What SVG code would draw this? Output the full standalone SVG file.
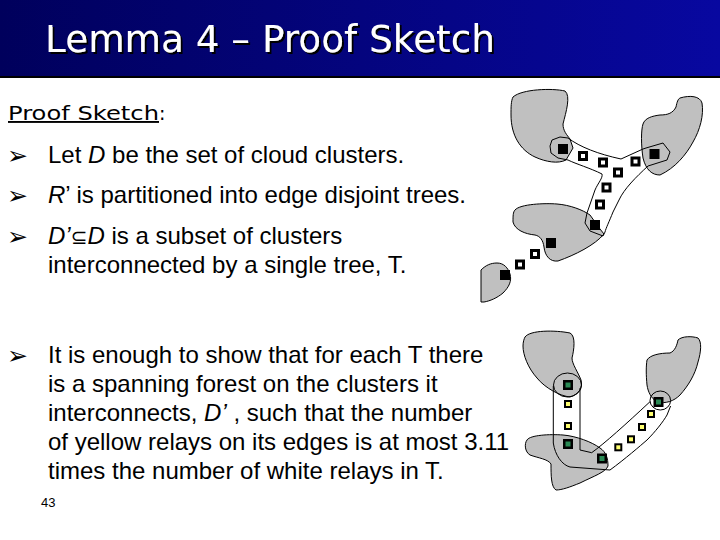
<svg xmlns="http://www.w3.org/2000/svg" width="720" height="540" viewBox="0 0 720 540">
<defs>
<linearGradient id="bar" x1="0" y1="0" x2="1" y2="0">
<stop offset="0" stop-color="#00005C"/>
<stop offset="1" stop-color="#0808A0"/>
</linearGradient>
<filter id="shadow" x="-5%" y="-20%" width="110%" height="140%">
<feDropShadow dx="2" dy="2" stdDeviation="0.6" flood-color="#000" flood-opacity="1"/>
</filter>
</defs>
<style>
.blob{fill:#C0C0C0;stroke:#000;stroke-width:1}
.hull{fill:none;stroke:#000;stroke-width:1}
.blk{fill:#000}
.wr{fill:#fff;stroke:#000;stroke-width:3}
.txt{font-family:"Liberation Sans",Arial,sans-serif;font-size:24px;fill:#000}
.bul{font-family:"DejaVu Sans",sans-serif;font-size:25px;fill:#000}
.it{font-style:italic}
.gr{fill:#2A8A55}
.yl{fill:#FFFF70}
</style>
<rect width="720" height="540" fill="#fff"/>
<g id="title">
<rect x="0" y="0" width="720" height="77" fill="url(#bar)"/>
<rect x="0" y="76" width="720" height="2" fill="#000"/>
<text x="45" y="52" font-family="'DejaVu Sans',sans-serif" font-size="37" fill="#fff" filter="url(#shadow)" textLength="450" lengthAdjust="spacingAndGlyphs">Lemma 4 – Proof Sketch</text>
</g>
<g id="heading">
<text x="8" y="120" font-family="'DejaVu Sans',sans-serif" font-size="19" fill="#000"><tspan text-decoration="underline" textLength="151" lengthAdjust="spacingAndGlyphs">Proof Sketch</tspan>:</text>
</g>
<g id="bullets">
<text class="bul" x="7" y="164">➢</text>
<text class="txt" x="48" y="163">Let <tspan class="it">D</tspan> be the set of cloud clusters.</text>
<text class="bul" x="7" y="204">➢</text>
<text class="txt" x="48" y="203"><tspan class="it">R</tspan>’ is partitioned into edge disjoint trees.</text>
<text class="bul" x="7" y="245">➢</text>
<text class="txt" x="48" y="244"><tspan class="it">D’</tspan><tspan font-family="'DejaVu Sans',sans-serif" font-size="20">⊆</tspan><tspan class="it">D</tspan> is a subset of clusters</text>
<text class="txt" x="48" y="273">interconnected by a single tree, T.</text>
<text class="bul" x="7" y="364">➢</text>
<text class="txt" x="48" y="363">It is enough to show that for each T there</text>
<text class="txt" x="48" y="392">is a spanning forest on the clusters it</text>
<text class="txt" x="48" y="421">interconnects, <tspan class="it">D’</tspan> , such that the number</text>
<text class="txt" x="48" y="450">of yellow relays on its edges is at most 3.11</text>
<text class="txt" x="48" y="479">times the number of white relays in T.</text>
<text x="41" y="507" font-family="'Liberation Sans',Arial,sans-serif" font-size="13" fill="#000">43</text>
</g>
<g id="top-blobs">
<path id="blobA" class="blob" d="M513,97 C522,89 552,88 565,91 C571,96 566,112 563,124 C563,131 567,135 570,139 L573,148 L566,160 C558,164 546,162 535,157 C520,150 511,135 511,115 C511,107 511,101 513,97 Z"/>
<path id="blobB" class="blob" d="M680,98 C690,95 700,96 702,103 C704,115 700,130 693,142 C686,155 675,168 660,175 C652,175 646,170 643,158 C641,145 641,130 643,124 C645,118 652,116 660,115 C668,115 673,113 676,107 C677,102 678,99 680,98 Z"/>
<path id="blobC" class="blob" d="M515,210 C520,204 545,203 557,204 C570,205 583,210 590,215 L600,229 L604,234 C595,245 575,255 558,261 C550,262 545,256 544,247 C543,240 540,236 535,235 C525,234 515,230 513,222 C513,216 513,212 515,210 Z"/>
<path id="blobD" class="blob" d="M481,270 C486,265 491,263 497,263 C504,263 508,268 510,274 C512,281 509,287 503,293 C497,298 490,301 484,302 L481,302 Z"/>
</g>
<g id="bottom-blobs">
<path id="blobE" class="blob" d="M525,337 C530,330 555,330 570,333 C576,336 574,350 572,358 C572,364 578,372 581,380 C583,388 579,394 570,397 C560,396 545,388 537,378 C528,368 523,355 523,346 C523,342 524,339 525,337 Z"/>
<path id="blobF" class="blob" d="M527,440 C530,435 550,434 563,435 C576,436 592,442 600,448 C606,452 608,458 608,466 C606,472 594,476 580,483 C570,487 562,490 556,490 C551,487 551,475 551,464 C548,459 538,458 530,455 C525,452 524,444 527,440 Z"/>
<path id="blobG" class="blob" d="M678,340 C682,336 692,336 698,338 C702,342 701,352 698,362 C695,375 688,386 680,395 C674,401 666,404 657,402 C651,398 648,392 647,385 C646,375 646,366 647,360 C650,355 660,353 670,353 C675,351 677,345 678,340 Z"/>
</g>
<g id="connectors">
<path class="hull" d="M550,146 L552,140 L560,137 L568,138 C580,147 598,154 621,159 L643,149 L646,148 L663,143 L670,152 L667,160 L648,166 C636,177 624,189 619,200 L613,212 C609,222 606,228 605,232 L603,236 L590,231 L585,223 L587,213 L595,190 C598,183 603,178 602,174 C590,168 576,164 568,160 L558,158 L551,153 Z"/>
<ellipse class="hull" cx="567.5" cy="385" rx="14" ry="12"/>
<ellipse class="hull" cx="660.3" cy="400.5" rx="10.3" ry="9.5"/>
<path class="hull" d="M553.3,386 L553.3,443 C555,455 562,465 570,467 L610,470 C625,459 640,446 647,440 C655,432 663,422 667,415 L670.6,406"/>
<path class="hull" d="M580,388 L580,450 L591.7,452.7 C605,443 625,425 650,401.7"/>
</g>
<g id="top-nodes">
<rect class="blk" x="558" y="144" width="10" height="10"/>
<rect class="blk" x="649.5" y="149" width="10" height="10"/>
<rect class="blk" x="590" y="220" width="10" height="10"/>
<rect class="blk" x="546" y="238" width="10" height="10"/>
<rect class="blk" x="500" y="270" width="10" height="10"/>
<rect class="wr" x="579.5" y="152.5" width="7" height="7"/>
<rect class="wr" x="599.5" y="159" width="7" height="7"/>
<rect class="wr" x="614.5" y="169" width="7" height="7"/>
<rect class="wr" x="632" y="158" width="7" height="7"/>
<rect class="wr" x="603" y="184" width="7" height="7"/>
<rect class="wr" x="596.5" y="201" width="7" height="7"/>
<rect class="wr" x="531.5" y="250.5" width="7" height="7"/>
<rect class="wr" x="516.5" y="261" width="7" height="7"/>
</g>
<g id="bottom-nodes">
<rect class="blk" x="563" y="380" width="10" height="10"/><rect class="gr" x="565.5" y="382.5" width="5" height="5"/>
<rect class="blk" x="563" y="439" width="10" height="10"/><rect class="gr" x="565.5" y="441.5" width="5" height="5"/>
<rect class="blk" x="597" y="453.5" width="10" height="10"/><rect class="gr" x="599.5" y="456" width="5" height="5"/>
<rect class="blk" x="653.5" y="397" width="10" height="10"/><rect class="gr" x="656" y="399.5" width="5" height="5"/>
<rect class="blk" x="564" y="400" width="8" height="8"/><rect class="yl" x="566" y="402" width="4" height="4"/>
<rect class="blk" x="564" y="422" width="8" height="8"/><rect class="yl" x="566" y="424" width="4" height="4"/>
<rect class="blk" x="647" y="410" width="8" height="8"/><rect class="yl" x="649" y="412" width="4" height="4"/>
<rect class="blk" x="638" y="423" width="8" height="8"/><rect class="yl" x="640" y="425" width="4" height="4"/>
<rect class="blk" x="627" y="435.3" width="8" height="8"/><rect class="yl" x="629" y="437.3" width="4" height="4"/>
<rect class="blk" x="614.3" y="443.3" width="8" height="8"/><rect class="yl" x="616.3" y="445.3" width="4" height="4"/>
</g>
</svg>
